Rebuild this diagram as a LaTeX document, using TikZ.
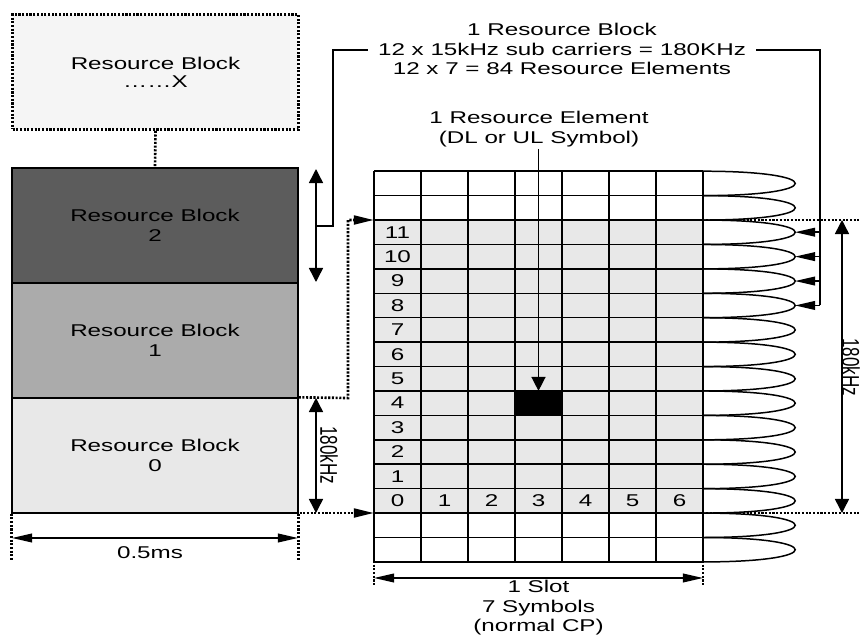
\documentclass[tikz,border=0pt]{standalone}
\usepackage{fontspec}
\setmainfont{Liberation Sans}
\usetikzlibrary{arrows.meta,positioning,calc}

\definecolor{rbx}{gray}{0.96}
\definecolor{rbtwo}{gray}{0.36}
\definecolor{rbone}{gray}{0.67}
\definecolor{rbzero}{gray}{0.91}
\definecolor{cellgray}{gray}{0.91}

\tikzset{
  txt/.style={font=\fontsize{9.7}{11.1}\selectfont, xscale=1.42, align=center, inner sep=1pt},
  block/.style={draw, line width=0.8pt, minimum width=5.72cm, minimum height=2.3cm, inner sep=0pt},
  ln/.style={line width=0.85pt},
  dots/.style={line width=1.5pt, dash pattern=on 1.2pt off 0.9pt},
  vtip/.tip={Triangle[length=8pt,width=8pt]},
  htip/.tip={Triangle[length=11.5pt,width=5pt]},
}

\begin{document}
\begin{tikzpicture}[x=0.02cm, y=-0.02cm]
      \useasboundingbox (0,0) rectangle (860,636);

      % resource blocks on the left
      \node[block, dots, fill=rbx] (RB_X) at (155.5,72) {};
      \node[block, fill=rbtwo] (RB_2) at (155,225.5) {};
      \node[block, fill=rbone] (RB_1) at (155,340.5) {};
      \node[block, fill=rbzero] (RB_0) at (155,455.5) {};
      \draw[dots] (RB_X.south) -- (RB_2.north);

      \node[txt] at (RB_X) {Resource Block\\[-1pt]\dots\dots X};
      \node[txt] at (RB_2) {Resource Block\\2};
      \node[txt] at (RB_1) {Resource Block\\1};
      \node[txt] at (RB_0) {Resource Block\\0};

      % the slot grid
      \fill[cellgray] (374,220) rectangle (703,513);
      \fill[black] (515,390.9) rectangle (562,415.4);
      \foreach \i in {0,...,16}
            \draw[ln] (374,{171.2+\i*24.42}) -- (703,{171.2+\i*24.42});
      \foreach \j in {0,...,7}
            \draw[ln] ({374+\j*47},171.2) -- ({374+\j*47},561.9);
      \foreach \r in {0,...,11}
            \node[txt] at (397.5,{500.8-\r*24.42}) {\r};
      \foreach \c in {1,...,6}
            \node[txt] at ({397.5+\c*47},500.8) {\c};

      % sub carrier loops
      \foreach \i in {0,...,15}
            \draw[ln] (703,{171.2+\i*24.42}) .. controls (826,{171.2+\i*24.42}) and (826,{171.2+(\i+1)*24.42}) .. (703,{171.2+(\i+1)*24.42});

      \coordinate (top_L) at (374,220);
      \coordinate (top_R) at (860,220);
      \coordinate (bot_L) at (374,513);
      \coordinate (bot_R) at (860,513);

      % dotted boundaries of the block
      \draw[dots, -htip] (RB_0.north east) -- (348,398) -- (348,220) -- (top_L);
      \draw[dots] (top_L) -- (top_R);
      \draw[dots, -htip] (200,513) -- (bot_L);
      \draw[dots] (bot_L) -- (bot_R);
      \draw[dots] (RB_0.south west) -- ++(0,47);
      \draw[dots] (RB_0.south east) -- ++(0,47);
      \draw[dots] (bot_L) -- ++(0,72);
      \draw[dots] (703,513) -- ++(0,72);

      % resource block label and bracket
      \draw[ln] (316,226) -- (333,226) -- (333,50) -- (820,50) -- (820,305.4);
      \node[txt, fill=white, inner xsep=4pt] (RB_lbl) at (562,49) {1 Resource Block\\12 x 15kHz sub carriers = 180KHz\\12 x 7 = 84 Resource Elements};
      \foreach \k in {0,...,3}
            \draw[ln, -htip] (820,{232.2+\k*24.42}) -- (795,{232.2+\k*24.42});
      \draw[ln, vtip-vtip] (316,169) -- (316,282);

      % resource element
      \node[txt] (RE_lbl) at (539,129) {1 Resource Element\\(DL or UL Symbol)};
      \coordinate (RE) at (538.5,390.9);
      \draw[ln, -vtip] (RE_lbl.south -| RE) -- (RE);

      % dimensions
      \draw[ln, vtip-vtip] (316,398) -- (316,513);
      \node[txt, rotate=-90] at (329,455) {180kHz};
      \draw[ln, vtip-vtip] (842,220) -- (842,513);
      \node[txt, rotate=-90] at (851,367) {180kHz};
      \draw[ln, htip-htip] (12,538) -- (298,538);
      \node[txt] at (150,553) {0.5ms};
      \draw[ln, htip-htip] (374,578) -- (703,578);
      \node[txt] at (538.5,608) {1 Slot\\7 Symbols\\(normal CP)};
\end{tikzpicture}
\end{document}
